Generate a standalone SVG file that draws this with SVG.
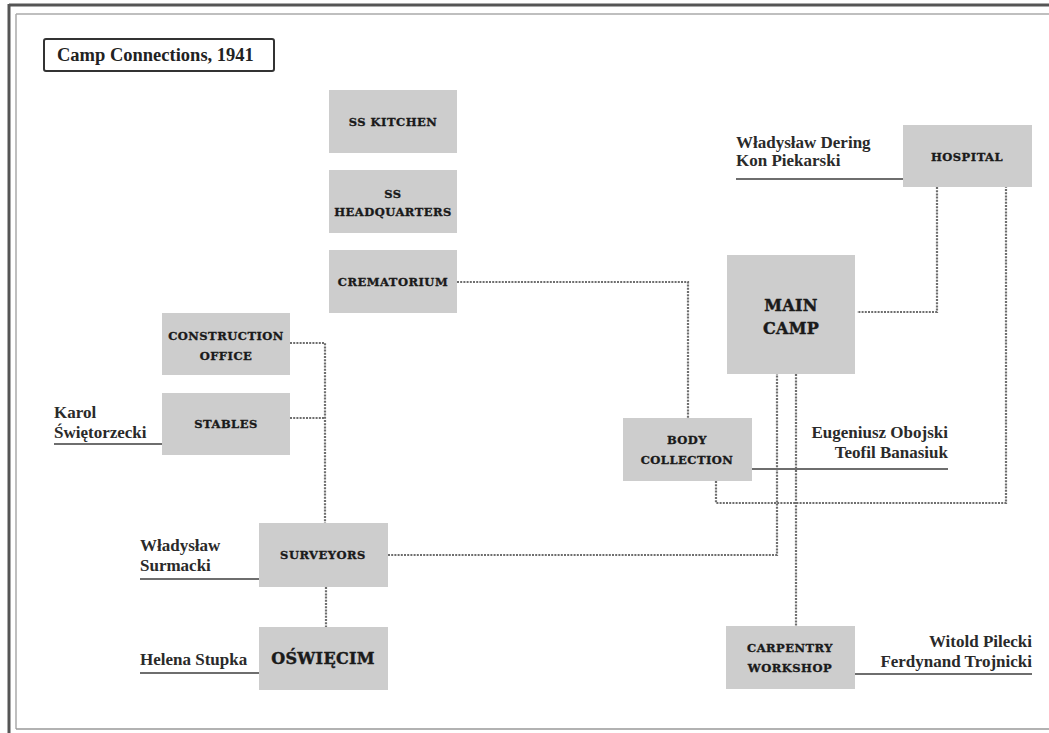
<svg xmlns="http://www.w3.org/2000/svg" width="1049" height="733" viewBox="0 0 1049 733">
<style>
.box{fill:#cdcdcd;}
.lbl{font-family:"DejaVu Serif",serif;font-weight:bold;font-size:11.5px;fill:#1a1a1a;stroke:#1a1a1a;stroke-width:0.35px;text-anchor:middle;letter-spacing:0.5px;}
.big{font-size:16px;letter-spacing:0.3px;stroke-width:0.45px;}
.name{font-family:"Liberation Serif",serif;font-size:17px;fill:#2a2a2a;font-weight:bold;}
.ul{stroke:#6e6e6e;stroke-width:2;fill:none;}
.con{stroke:#6e6e6e;stroke-width:2.2;stroke-dasharray:2 1.2;fill:none;}
</style>
<rect x="0" y="0" width="1049" height="733" fill="#ffffff"/>
<g id="frame">
<line x1="9" y1="5" x2="1049" y2="5" stroke="#555" stroke-width="3"/>
<line x1="9" y1="4" x2="9" y2="733" stroke="#555" stroke-width="3"/>
<line x1="16" y1="14" x2="1049" y2="14" stroke="#aaa" stroke-width="1.5"/>
<line x1="16" y1="14" x2="16" y2="729" stroke="#aaa" stroke-width="1.5"/>
<line x1="16" y1="729" x2="1049" y2="729" stroke="#999" stroke-width="1.5"/>
</g>
<g id="title">
<rect x="44" y="39" width="230" height="32" rx="2" fill="#fff" stroke="#333" stroke-width="2"/>
<text x="57" y="61" font-family="Liberation Serif, serif" font-weight="bold" font-size="18.5" fill="#222">Camp Connections, 1941</text>
</g>
<g id="connectors">
<polyline class="con" points="457,282 688,282 688,418"/>
<polyline class="con" points="937,187 937,312 857,312"/>
<polyline class="con" points="716,481 716,503 1006,503 1006,187"/>
<polyline class="con" points="290,343 325,343 325,523"/>
<polyline class="con" points="290,418 325,418"/>
<polyline class="con" points="326,587 326,627"/>
<polyline class="con" points="388,555 777,555 777,374"/>
<polyline class="con" points="796,374 796,626"/>
</g>
<g id="ss-kitchen"><rect class="box" x="329" y="90" width="128" height="63"/><text class="lbl" x="393" y="126">SS KITCHEN</text></g>
<g id="ss-headquarters"><rect class="box" x="329" y="170" width="128" height="63"/><text class="lbl" x="393" y="198">SS</text><text class="lbl" x="393" y="216">HEADQUARTERS</text></g>
<g id="crematorium"><rect class="box" x="329" y="250" width="128" height="63"/><text class="lbl" x="393" y="286">CREMATORIUM</text></g>
<g id="hospital"><rect class="box" x="903" y="125" width="129" height="62"/><text class="lbl" x="967" y="161">HOSPITAL</text>
<line class="ul" x1="736" y1="179" x2="903" y2="179"/>
<text class="name" x="736" y="148">Władysław Dering</text><text class="name" x="736" y="166">Kon Piekarski</text></g>
<g id="main-camp"><rect class="box" x="727" y="255" width="128" height="119"/><text class="lbl big" x="791" y="311">MAIN</text><text class="lbl big" x="791" y="334">CAMP</text></g>
<g id="body-collection"><rect class="box" x="623" y="418" width="129" height="63"/><text class="lbl" x="687" y="444">BODY</text><text class="lbl" x="687" y="464">COLLECTION</text>
<line class="ul" x1="752" y1="469" x2="948" y2="469"/>
<text class="name" x="948" y="438" text-anchor="end">Eugeniusz Obojski</text><text class="name" x="948" y="458" text-anchor="end">Teofil Banasiuk</text></g>
<g id="construction-office"><rect class="box" x="162" y="313" width="128" height="62"/><text class="lbl" x="226" y="340">CONSTRUCTION</text><text class="lbl" x="226" y="360">OFFICE</text></g>
<g id="stables"><rect class="box" x="162" y="393" width="128" height="62"/><text class="lbl" x="226" y="428">STABLES</text>
<line class="ul" x1="54" y1="444" x2="162" y2="444"/>
<text class="name" x="54" y="418" font-size="16.5">Karol</text><text class="name" x="54" y="438" font-size="16.5">Świętorzecki</text></g>
<g id="surveyors"><rect class="box" x="259" y="523" width="129" height="64"/><text class="lbl" x="323" y="559">SURVEYORS</text>
<line class="ul" x1="140" y1="579" x2="259" y2="579"/>
<text class="name" x="140" y="551">Władysław</text><text class="name" x="140" y="571">Surmacki</text></g>
<g id="oswiecim"><rect class="box" x="259" y="627" width="129" height="63"/><text class="lbl big" x="323" y="664">OŚWIĘCIM</text>
<line class="ul" x1="140" y1="673" x2="259" y2="673"/>
<text class="name" x="140" y="665">Helena Stupka</text></g>
<g id="carpentry-workshop"><rect class="box" x="726" y="626" width="129" height="63"/><text class="lbl" x="790" y="652">CARPENTRY</text><text class="lbl" x="790" y="672">WORKSHOP</text>
<line class="ul" x1="855" y1="674" x2="1032" y2="674"/>
<text class="name" x="1032" y="647" text-anchor="end">Witold Pilecki</text><text class="name" x="1032" y="667" text-anchor="end">Ferdynand Trojnicki</text></g>
</svg>
